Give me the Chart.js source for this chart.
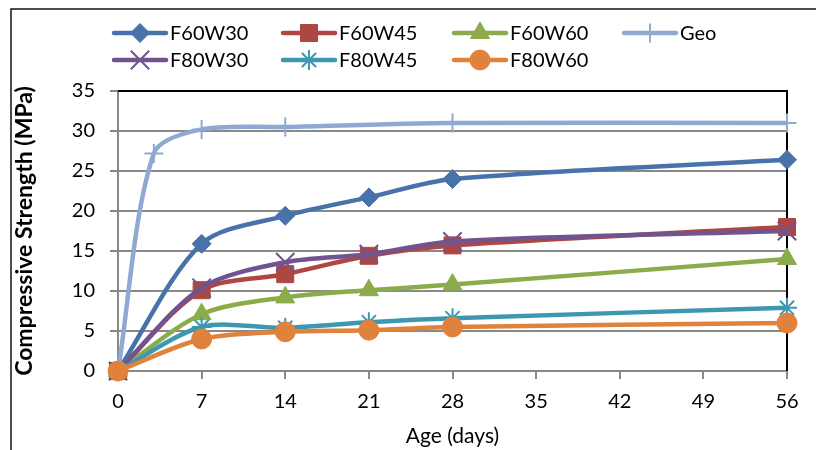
<!DOCTYPE html>
<html>
<head>
<meta charset="utf-8">
<script src="https://cdn.jsdelivr.net/npm/chart.js@4.4.1/dist/chart.umd.min.js"></script>
<style>
  html, body { margin: 0; padding: 0; background: #fff; }
  canvas { display: block; }
</style>
</head>
<body>
<canvas id="grafico" width="816" height="450"></canvas>
<script>
// =====================
// DATOS
// =====================
const ageDays = [0, 7, 14, 21, 28, 56];
const geoDays = [0, 3, 7, 14, 28, 56];

const f60w30 = [0, 15.9, 19.4, 21.7, 24.0, 26.4];
const f60w45 = [0, 10.1, 12.1, 14.4, 15.7, 18.0];
const f60w60 = [0, 7.1, 9.2, 10.1, 10.8, 14.0];
const geo    = [0, 27.2, 30.2, 30.5, 31.0, 31.0];
const f80w30 = [0, 10.4, 13.6, 14.6, 16.2, 17.5];
const f80w45 = [0, 5.5, 5.4, 6.1, 6.6, 7.9];
const f80w60 = [0, 4.0, 4.9, 5.1, 5.5, 6.0];

const yTicks = [0, 5, 10, 15, 20, 25, 30, 35];
const xTicks = [0, 7, 14, 21, 28, 35, 42, 49, 56];

const FONT = "Lato, 'Open Sans', sans-serif";
const GRID = "#898989";

// =====================
// HELPERS
// =====================
function puntos(xs, ys) {
  return xs.map((x, i) => ({ x: x, y: ys[i] }));
}

function serie(label, xs, ys, color, estilo, radio, borde, idx) {
  return {
    label: label,
    data: puntos(xs, ys),
    borderColor: color,
    backgroundColor: color,
    borderWidth: 4.5,
    tension: 0.3,
    pointStyle: estilo,
    pointRadius: radio,
    pointHoverRadius: radio,
    pointBorderWidth: borde,
    pointBackgroundColor: color,
    pointBorderColor: color,
    clip: false,
    order: -idx
  };
}

const datasets = [
  serie("F60W30", ageDays, f60w30, "#4873aa", "rectRot", 9.5, 1, 0),
  serie("F60W45", ageDays, f60w45, "#ae4642", "rect", 12, 1, 1),
  serie("F60W60", ageDays, f60w60, "#8cac4c", "triangle", 11, 1, 2),
  serie("Geo", geoDays, geo, "#8fa9d2", "cross", 9.5, 2, 3),
  serie("F80W30", ageDays, f80w30, "#71548f", "crossRot", 13, 2, 4),
  serie("F80W45", ageDays, f80w45, "#3e97b0", "star", 10, 2, 5),
  serie("F80W60", ageDays, f80w60, "#e0823b", "circle", 10, 1, 6)
];

// =====================
// PLUGINS
// =====================
const marcos = {
  id: "marcos",
  beforeDraw(chart) {
    const ctx = chart.ctx;
    ctx.save();
    ctx.fillStyle = "#fff";
    ctx.fillRect(0, 0, chart.width, chart.height);
    ctx.strokeStyle = "#111";
    ctx.lineWidth = 1.5;
    ctx.beginPath();
    ctx.moveTo(11, chart.height);
    ctx.lineTo(11, 9);
    ctx.lineTo(chart.width, 9);
    ctx.stroke();
    ctx.restore();
  },
  beforeDatasetsDraw(chart) {
    const a = chart.chartArea;
    const ctx = chart.ctx;
    ctx.save();
    ctx.strokeStyle = "#000";
    ctx.lineWidth = 2;
    ctx.beginPath();
    ctx.moveTo(a.left, a.top);
    ctx.lineTo(a.right, a.top);
    ctx.lineTo(a.right, a.bottom);
    ctx.stroke();
    ctx.restore();
  }
};

const leyenda = {
  id: "leyenda",
  afterDraw(chart) {
    const ctx = chart.ctx;
    const cols = [112, 281, 452, 622];
    const rows = [33, 60];
    ctx.save();
    ctx.font = "20px " + FONT;
    ctx.textBaseline = "middle";
    ctx.textAlign = "left";
    chart.data.datasets.forEach((d, i) => {
      const x = cols[i < 4 ? i : i - 4];
      const y = rows[i < 4 ? 0 : 1];
      ctx.strokeStyle = d.borderColor;
      ctx.lineWidth = 4.5;
      ctx.lineCap = "round";
      ctx.beginPath();
      ctx.moveTo(x + 2, y);
      ctx.lineTo(x + 54, y);
      ctx.stroke();
      ctx.lineCap = "butt";
      ctx.fillStyle = d.pointBackgroundColor;
      ctx.strokeStyle = d.pointBorderColor;
      ctx.lineWidth = d.pointBorderWidth;
      Chart.helpers.drawPoint(ctx, {
        pointStyle: d.pointStyle,
        radius: d.pointRadius,
        rotation: 0,
        borderWidth: d.pointBorderWidth
      }, x + 28, y);
      ctx.fillStyle = "#000";
      ctx.fillText(d.label, x + 58, y + 1);
    });
    ctx.restore();
  }
};

// =====================
// GRÁFICO
// =====================
new Chart(document.getElementById("grafico"), {
  type: "line",
  data: { datasets: datasets },
  options: {
    responsive: false,
    animation: false,
    devicePixelRatio: 1,
    layout: { padding: { top: 91, left: 0, right: 29, bottom: 0 } },
    plugins: {
      legend: { display: false },
      tooltip: { enabled: false }
    },
    scales: {
      x: {
        type: "linear",
        min: 0,
        max: 56,
        afterBuildTicks: s => { s.ticks = xTicks.map(v => ({ value: v })); },
        afterFit: s => { s.height = 79; },
        ticks: { padding: 11, color: "#000", font: { family: FONT, size: 20 } },
        grid: { drawOnChartArea: false, drawTicks: true, tickLength: 8, color: GRID, lineWidth: 2 },
        border: { display: true, color: GRID, width: 2 },
        title: {
          display: true,
          text: "Age (days)",
          color: "#000",
          font: { family: FONT, size: 21 },
          padding: { top: 0, bottom: 1 }
        }
      },
      y: {
        min: 0,
        max: 35,
        afterBuildTicks: s => { s.ticks = yTicks.map(v => ({ value: v })); },
        afterFit: s => { s.width = 118; },
        ticks: { padding: 15, color: "#000", font: { family: FONT, size: 20 } },
        grid: { color: GRID, lineWidth: 2, tickLength: 8 },
        border: { display: true, color: GRID, width: 2 },
        title: {
          display: true,
          text: "Compressive Strength (MPa)",
          color: "#000",
          font: { family: FONT, size: 23, weight: "bold" },
          padding: { top: 11, bottom: 0 }
        }
      }
    }
  },
  plugins: [marcos, leyenda]
});
</script>
</body>
</html>
